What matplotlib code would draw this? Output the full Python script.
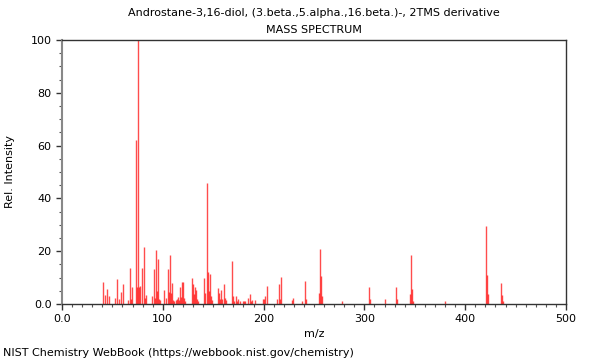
import matplotlib
matplotlib.use("Agg")
import matplotlib.pyplot as plt
from matplotlib.ticker import MultipleLocator

# peak list (m/z, relative intensity)
mz = [41, 43, 45, 47, 53, 55, 57, 59, 61, 65, 67, 68, 69,
      73, 74, 75, 76, 77, 79, 81, 82, 83, 89, 91, 92, 93, 94, 95, 96, 97,
      101, 103, 105, 106, 107, 108, 109, 110, 111, 113, 114, 115, 116,
      117, 118, 119, 120, 121, 122, 129, 130, 131, 132, 133, 134, 135,
      141, 142, 144, 145, 146, 147, 148, 149, 155, 156, 157, 158, 159,
      161, 162, 163, 169, 170, 171, 173, 174, 175, 177, 180, 181, 182,
      185, 187, 188, 189, 191, 199, 200, 201, 203, 213, 215, 216, 217,
      228, 229, 238, 241, 242, 255, 256, 257, 258, 278, 305, 306, 320,
      331, 332, 345, 346, 347, 348, 380, 421, 422, 423, 436, 437, 438]
intensity = [8.5, 3.4, 5.6, 2.9, 2.4, 9.5, 1.8, 4.6, 7.6, 1.4, 13.6, 1.7, 6.4,
             62.0, 6.3, 100.0, 6.3, 7.0, 13.7, 21.6, 2.2, 3.4, 3.1, 13.3, 2.4, 20.4, 4.8, 17.2, 1.8, 1.6,
             5.3, 2.4, 13.3, 4.6, 18.7, 4.0, 7.9, 1.4, 1.2, 1.6, 2.0, 2.6, 1.6,
             6.6, 2.6, 8.4, 8.3, 2.4, 1.2, 9.7, 7.4, 3.6, 6.4, 5.3, 2.0, 1.2,
             9.7, 4.0, 45.7, 12.2, 5.0, 11.4, 3.0, 1.4, 6.2, 4.0, 2.0, 5.4, 2.0,
             7.6, 2.2, 1.4, 16.4, 3.0, 1.2, 3.0, 1.0, 2.0, 1.0, 1.0, 1.0, 1.0,
             2.1, 3.8, 1.2, 1.5, 1.5, 2.0, 1.8, 3.0, 6.8, 2.0, 7.4, 2.0, 10.4,
             1.5, 2.2, 1.0, 8.7, 2.0, 4.0, 20.8, 10.6, 3.0, 1.0, 6.4, 2.0, 1.9,
             6.4, 2.0, 3.6, 18.4, 5.7, 1.0, 1.0, 29.7, 11.0, 3.7, 8.0, 3.4, 1.0]

title = "Androstane-3,16-diol, (3.beta.,5.alpha.,16.beta.)-, 2TMS derivative"
credit = "NIST Chemistry WebBook (https://webbook.nist.gov/chemistry)"

fig = plt.figure(figsize=(6, 3.6), dpi=100)
ax = fig.add_axes([0.1033, 0.1556, 0.84, 0.7333])

ax.vlines(mz, 0, intensity, color="red", alpha=0.7, linewidth=1.0)

ax.set_xlim(0, 500)
ax.set_ylim(0, 100)
ax.xaxis.set_major_locator(MultipleLocator(100))
ax.xaxis.set_minor_locator(MultipleLocator(10))
ax.yaxis.set_major_locator(MultipleLocator(20))
ax.yaxis.set_minor_locator(MultipleLocator(5))
ax.set_xticks([0, 100, 200, 300, 400, 500])
ax.set_xticklabels(["0.0", "100", "200", "300", "400", "500"])
ax.set_yticks([0, 20, 40, 60, 80, 100])
ax.set_yticklabels(["0.0", "20", "40", "60", "80", "100"])
ax.tick_params(which="major", length=4, width=1, labelsize=8, color="#333333")
ax.tick_params(which="minor", length=2.5, width=0.8, color="#555555")
for side in ax.spines.values():
    side.set_color("#333333")
    side.set_linewidth(1)
ax.spines["left"].set_color("#888888")
ax.spines["left"].set_linewidth(1.5)

ax.set_xlabel("m/z", fontsize=8, labelpad=3)
ax.set_ylabel("Rel. Intensity", fontsize=8, labelpad=11)

fig.text(0.523, 0.963, title, ha="center", va="center", fontsize=8)
fig.text(0.523, 0.916, "MASS SPECTRUM", ha="center", va="center", fontsize=8)
fig.text(0.005, 0.02, credit, ha="left", va="center", fontsize=8)

fig.savefig("out.png", dpi=100)
